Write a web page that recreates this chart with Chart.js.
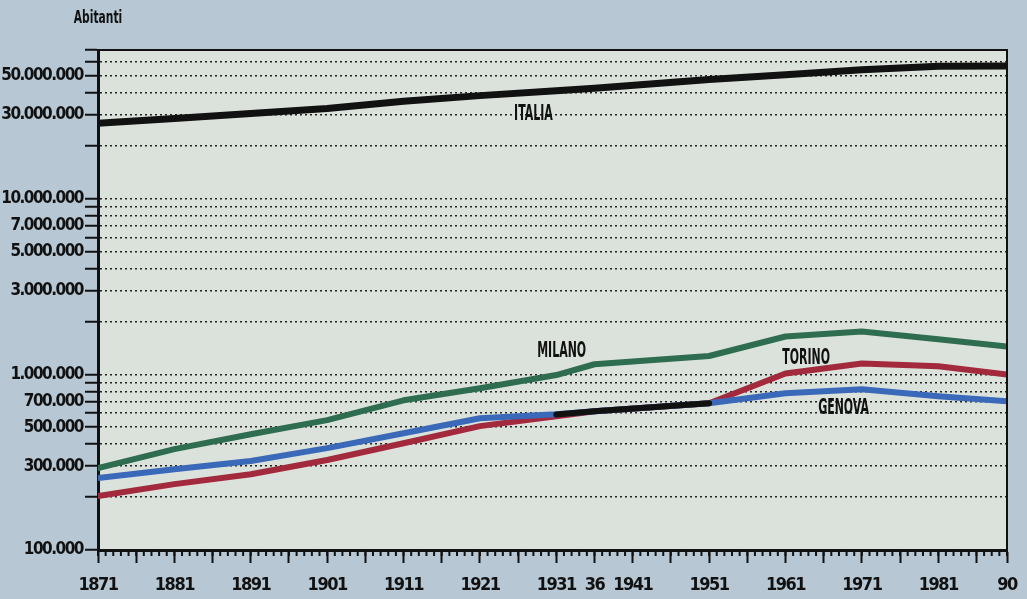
<!DOCTYPE html>
<html>
<head>
<meta charset="utf-8">
<script src="https://cdn.jsdelivr.net/npm/chart.js@4"></script>
<style>
  html, body { margin: 0; padding: 0; background: #b7c8d4; }
  canvas { display: block; }
</style>
</head>
<body>
<canvas id="c" width="1027" height="599"></canvas>
<script>
const years   = [1871, 1881, 1891, 1901, 1911, 1921, 1931, 1936, 1951, 1961, 1971, 1981, 1990];
const italia  = [26.8e6, 28.5e6, 30.5e6, 32.5e6, 35.8e6, 38.5e6, 41.0e6, 42.4e6, 47.5e6, 50.6e6, 54.1e6, 56.6e6, 56.8e6];
const milano  = [292e3, 375e3, 456e3, 548e3, 711e3, 832e3, 990e3, 1140e3, 1270e3, 1640e3, 1750e3, 1580e3, 1440e3];
const torino  = [203e3, 237e3, 270e3, 325e3, 405e3, 507e3, 577e3, 616e3, 684e3, 1010e3, 1150e3, 1110e3, 995e3];
const genova  = [257e3, 288e3, 321e3, 380e3, 462e3, 562e3, 593e3, 616e3, 684e3, 780e3, 822e3, 750e3, 703e3];
const overlap = [null, null, null, null, null, null, 590e3, 616e3, 684e3, null, null, null, null];

const yGridValues = [1e5,2e5,3e5,4e5,5e5,6e5,7e5,8e5,9e5,1e6,2e6,3e6,4e6,5e6,6e6,7e6,8e6,9e6,1e7,2e7,3e7,4e7,5e7,6e7,7e7];
const yLabelled = {1e5:'100.000',3e5:'300.000',5e5:'500.000',7e5:'700.000',1e6:'1.000.000',3e6:'3.000.000',5e6:'5.000.000',7e6:'7.000.000',1e7:'10.000.000',3e7:'30.000.000',5e7:'50.000.000'};
const xMajorTicks = [1871,1876,1881,1886,1891,1896,1901,1906,1911,1916,1921,1926,1931,1936,1941,1946,1951,1956,1961,1966,1971,1976,1981,1986,1990];
const xLabelled = {1871:'1871',1881:'1881',1891:'1891',1901:'1901',1911:'1911',1921:'1921',1931:'1931',1936:'36',1941:'1941',1951:'1951',1961:'1961',1971:'1971',1981:'1981',1990:'90'};
const seriesLabels = [
  {text:'ITALIA', x:1928, y:30e6},
  {text:'MILANO', x:1931.7, y:1.35e6},
  {text:'TORINO', x:1963.7, y:1.23e6},
  {text:'GENOVA', x:1968.6, y:6.41e5}
];

const FONT = "'DejaVu Sans Condensed', 'Liberation Sans Narrow', sans-serif";
const pts = arr => years.map((yr, i) => ({x: yr, y: arr[i]}));

const bgPlugin = {
  id: 'bg',
  beforeDraw(chart) {
    const {ctx, chartArea: a} = chart;
    ctx.save();
    ctx.fillStyle = '#b7c8d4';
    ctx.fillRect(0, 0, chart.width, chart.height);
    ctx.fillStyle = '#dbe2db';
    ctx.fillRect(a.left, a.top, a.right - a.left, a.bottom - a.top);
    ctx.restore();
    ctx.letterSpacing = '-1.5px';
  },
  afterDraw(chart) {
    const {ctx, chartArea: a, scales} = chart;
    const xs = scales.x;
    ctx.letterSpacing = '0px';
    ctx.save();
    ctx.strokeStyle = '#111';
    ctx.lineWidth = 2;
    ctx.beginPath();
    ctx.moveTo(a.left, a.top); ctx.lineTo(a.right, a.top); ctx.lineTo(a.right, a.bottom);
    ctx.stroke();
    ctx.beginPath();
    for (let yr = 1871; yr <= 1990; yr++) {
      const px = xs.getPixelForValue(yr);
      ctx.moveTo(px, a.bottom); ctx.lineTo(px, a.bottom + 6);
    }
    ctx.stroke();
    ctx.fillStyle = '#111';
    ctx.textAlign = 'center';
    ctx.textBaseline = 'middle';
    seriesLabels.forEach(l => {
      const px = xs.getPixelForValue(l.x);
      const py = scales.y.getPixelForValue(l.y);
      ctx.save();
      ctx.translate(px, py);
      ctx.scale(0.58, 1);
      ctx.font = 'bold 21px ' + FONT;
      ctx.fillText(l.text, 0, 0);
      ctx.restore();
    });
    ctx.save();
    ctx.translate(a.left, a.top - 31);
    ctx.scale(0.7, 1);
    ctx.font = 'bold 17px ' + FONT;
    ctx.fillText('Abitanti', 0, 0);
    ctx.restore();
    ctx.restore();
  }
};

const lineDs = (label, arr, color, width, order) => ({
  label, data: pts(arr), borderColor: color, backgroundColor: color,
  borderWidth: width, pointRadius: 0, tension: 0, spanGaps: false, order,
  borderCapStyle: 'round', borderJoinStyle: 'round'
});

new Chart(document.getElementById('c'), {
  type: 'line',
  data: {
    datasets: [
      lineDs('Torino', torino, '#a3293d', 6, 4),
      lineDs('Genova', genova, '#3a69b9', 6, 3),
      lineDs('Torino/Genova', overlap, '#111111', 6, 1),
      lineDs('Milano', milano, '#2f6d50', 6, 2),
      lineDs('Italia', italia, '#111111', 7, 0)
    ]
  },
  options: {
    responsive: false,
    devicePixelRatio: 1,
    animation: false,
    layout: { padding: { top: 50, right: 20, left: 0, bottom: 0 } },
    plugins: { legend: { display: false }, tooltip: { enabled: false } },
    scales: {
      x: {
        type: 'linear', min: 1871, max: 1990,
        afterBuildTicks: s => { s.ticks = xMajorTicks.map(v => ({value: v})); },
        afterFit: s => { s.height = 49; s.paddingRight = 0; s.paddingLeft = 0; },
        ticks: {
          autoSkip: false, maxRotation: 0, minRotation: 0, padding: 12,
          color: '#111', font: { family: FONT, size: 18, weight: 'bold' },
          callback: v => xLabelled[v] || ''
        },
        grid: { drawOnChartArea: false, drawTicks: true, tickLength: 13, tickWidth: 2, tickColor: '#111' },
        border: { display: true, color: '#111', width: 3 }
      },
      y: {
        type: 'logarithmic', min: 1e5, max: 7e7,
        afterBuildTicks: s => { s.ticks = yGridValues.map(v => ({value: v})); },
        afterFit: s => { s.width = 98; s.paddingTop = 0; s.paddingBottom = 0; },
        ticks: {
          autoSkip: false, padding: 2,
          color: '#111', font: { family: FONT, size: 17, weight: 'bold' },
          callback: v => yLabelled[v] || ''
        },
        grid: {
          drawOnChartArea: true, color: '#222', lineWidth: 1.5,
          tickLength: 13, tickWidth: 2, tickColor: '#111', tickBorderDash: []
        },
        border: { display: true, color: '#111', width: 3, dash: [2, 3] }
      }
    }
  },
  plugins: [bgPlugin]
});
</script>
</body>
</html>
